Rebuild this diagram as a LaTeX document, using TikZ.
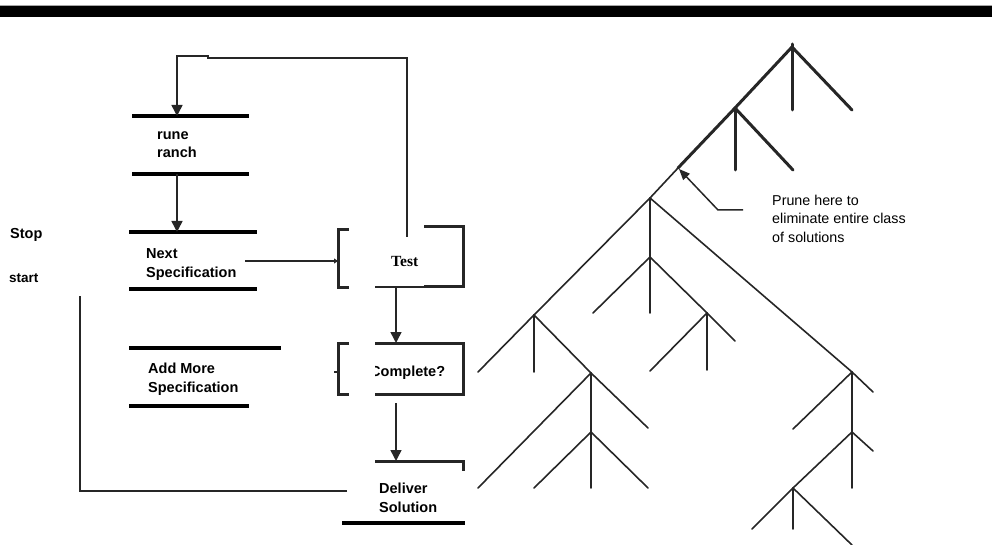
\documentclass[tikz,border=0pt]{standalone}
\usepackage{fontspec}
\setmainfont{Liberation Sans}
\newfontfamily\testfont{Liberation Serif}
\usetikzlibrary{arrows.meta}

\begin{document}
\begin{tikzpicture}[x=1pt,y=-1pt,
  bar line/.style={line width=3.5pt,draw=black},
  box line/.style={line width=3pt,draw=black!85},
  flow line/.style={line width=1.5pt,draw=black!85},
  flow arrow/.style={flow line,-{Triangle[width=11pt,length=11pt]}},
  tree thick/.style={line width=3pt,draw=black!85,line cap=round},
  tree thin/.style={line width=1.6pt,draw=black!85,line cap=round},
  label text/.style={font=\bfseries\fontsize{14.5}{18.5}\selectfont,align=left,anchor=base west,inner sep=0pt}]

  \useasboundingbox (0,0) rectangle (992,545);

  % header band
  \fill[black] (0,6.5) rectangle (992,17);
  \draw[black!35,line width=1pt] (0,6) -- (992,6);

  % labels (base = last line)
  \node[label text] (prune) at (157,158) {rune\\ranch};
  \node[label text] (next) at (146,277) {Next\\Specification};
  \node[label text] (add) at (148,392) {Add More\\Specification};
  \node[label text] (deliver) at (379,512) {Deliver\\Solution};
  \node[label text] (stop) at (10,238) {Stop};
  \node[label text,font=\bfseries\fontsize{13.5}{16}\selectfont] (start) at (9,282) {start};
  \node[label text,font=\testfont\bfseries\fontsize{15.5}{18}\selectfont] (test) at (391,266) {Test};
  \begin{scope}
    \clip (375,340) rectangle (470,400);
    \node[label text] (complete) at (370,376) {Complete?};
  \end{scope}
  \node[label text,font=\fontsize{14.3}{18}\selectfont] (note) at (772,242) {Prune here to\\eliminate entire class\\of solutions};

  % bars
  \foreach \y/\xa/\xb in {116/132/249, 174/132/249, 232/129/257, 289/129/257,
                          348/129/281, 406/129/249, 523/342/465}
    \draw[bar line] (\xa,\y) -- (\xb,\y);

  % brackets
  \draw[box line] (349,230) -- (338,230) -- (338,287) -- (349,287);
  \draw[box line] (424,227) -- (463,227) -- (463,286) -- (424,286);
  \draw[flow line] (375,287) -- (424,287);
  \draw[box line] (349,343) -- (338,343) -- (338,394) -- (349,394);
  \draw[flow line] (334,372) -- (338,372);
  \draw[box line] (375,343) -- (463,343) -- (463,394) -- (375,394);
  \draw[box line] (375,461) -- (463,461) -- (463,471);

  % flow
  \coordinate (tq) at (407,237);
  \coordinate (tc1) at (407,58);
  \coordinate (tc2) at (208,58);
  \coordinate (tc3) at (208,56);
  \coordinate (tc4) at (177,56);
  \coordinate (pin) at (177,116);
  \coordinate (pout) at (177,174);
  \coordinate (nin) at (177,232);
  \coordinate (nout) at (245,261);
  \coordinate (tin) at (338,261);
  \coordinate (tout) at (396,288);
  \coordinate (cin) at (396,343);
  \coordinate (cout) at (396,403);
  \coordinate (din) at (396,461);
  \coordinate (dout) at (347,491);
  \coordinate (lc) at (80,491);
  \coordinate (lend) at (80,296);

  \draw[flow arrow] (tq) -- (tc1) -- (tc2) -- (tc3) -- (tc4) -- (pin);
  \draw[flow arrow] (pout) -- (nin);
  \draw[flow line,-{Triangle[width=5pt,length=4pt]}] (nout) -- (tin);
  \draw[flow arrow] (tout) -- (cin);
  \draw[flow arrow] (cout) -- (din);
  \draw[flow line] (dout) -- (lc) -- (lend);

  % tree
  \foreach \n/\x/\y in {top/792/44, apex/792/47, f2/735/108, cut/678/168,
      f3/650/198, f4/650/257, f5/707/313, f6/852/372, f7/534/315, f8/591/373,
      f9/591/432, f10/852/432, f11/793/488,
      l1/792/110, l2/852/110, l3/735/170, l4/793/170, l5/593/313, l6/650/313,
      l7/650/371, l8/707/370, l9/735/341, l10/478/372, l11/534/372, l12/478/488,
      l13/648/428, l14/534/488, l15/591/488, l16/648/488, l17/793/429,
      l18/873/392, l19/852/488, l20/873/451, l21/752/529, l22/793/529,
      l23/852/545, nq/743/210, nk/718/210, tip/679/169}
    \coordinate (\n) at (\x,\y);

  \foreach \a/\b in {top/l1, apex/l2, apex/f2, f2/l3, f2/l4, f2/cut}
    \draw[tree thick] (\a) -- (\b);
  \foreach \a/\b in {cut/f3, f3/f4, f3/f7, f3/f6, f4/l5, f4/l6, f4/f5,
      f5/l7, f5/l8, f5/l9, f7/l10, f7/l11, f7/f8, f8/l12, f8/f9, f8/l13,
      f9/l14, f9/l15, f9/l16, f6/l17, f6/f10, f6/l18, f10/f11, f10/l19,
      f10/l20, f11/l21, f11/l22, f11/l23}
    \draw[tree thin] (\a) -- (\b);

  \draw[flow line,-{Triangle[width=9pt,length=11pt]}] (nq) -- (nk) -- (tip);
\end{tikzpicture}
\end{document}
